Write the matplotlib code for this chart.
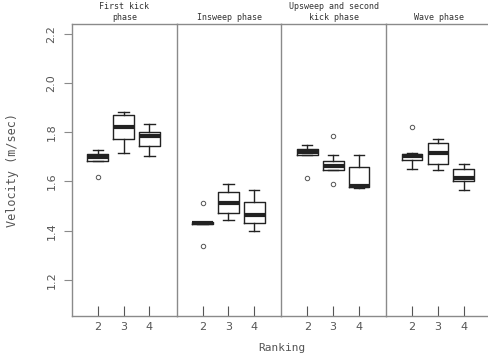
import matplotlib
matplotlib.use("Agg")
import matplotlib.pyplot as plt

# phases (panels) and ranking groups
phases = ["First kick\nphase", "Insweep phase", "Upsweep and second\nkick phase", "Wave phase"]
ranks = ["2", "3", "4"]

# box stats per phase, one entry per rank
med = [[1.698, 1.823, 1.785],
       [1.430, 1.511, 1.464],
       [1.720, 1.662, 1.582],
       [1.703, 1.714, 1.615]]
q1 = [[1.682, 1.771, 1.744],
      [1.426, 1.472, 1.430],
      [1.706, 1.646, 1.578],
      [1.687, 1.672, 1.602]]
q3 = [[1.711, 1.869, 1.801],
      [1.434, 1.556, 1.518],
      [1.731, 1.683, 1.658],
      [1.710, 1.758, 1.649]]
whislo = [[1.682, 1.717, 1.703],
          [1.426, 1.444, 1.399],
          [1.706, 1.646, 1.575],
          [1.649, 1.645, 1.567]]
whishi = [[1.728, 1.883, 1.834],
          [1.434, 1.591, 1.566],
          [1.748, 1.709, 1.709],
          [1.714, 1.774, 1.672]]
fliers = [[[1.617], [], []],
          [[1.513, 1.339], [], []],
          [[1.612], [1.784, 1.588], []],
          [[1.820], [], []]]

yticks = [1.2, 1.4, 1.6, 1.8, 2.0, 2.2]

grey = "#8a8a8a"
font = "DejaVu Sans Mono"

fig, axes = plt.subplots(1, 4, sharey=True, figsize=(4.89, 3.62), dpi=100)
fig.subplots_adjust(left=0.147, right=1.004, bottom=0.127, top=0.934, wspace=0)

for i, ax in enumerate(axes):
    stats = []
    for j in range(3):
        stats.append(dict(med=med[i][j], q1=q1[i][j], q3=q3[i][j],
                          whislo=whislo[i][j], whishi=whishi[i][j],
                          fliers=fliers[i][j]))
    ax.bxp(stats, positions=[1, 2, 3], widths=0.8, capwidths=0.4,
           boxprops=dict(color="#222222", lw=1.0),
           whiskerprops=dict(color="#222222", lw=1.0),
           capprops=dict(color="#222222", lw=1.0),
           medianprops=dict(color="#222222", lw=3.0, solid_capstyle="butt"),
           flierprops=dict(marker="o", markersize=3.2, markerfacecolor="none",
                           markeredgecolor="#555555", markeredgewidth=0.7))
    ax.set_xlim(0, 4.05)
    ax.set_ylim(1.053, 2.24)
    ax.set_xticks([1, 2, 3])
    ax.set_xticklabels(ranks, fontsize=8, color="#555555")
    ax.tick_params(axis="x", direction="in", length=7, color="#555555", pad=4)
    ax.set_title(phases[i], fontsize=6, family=font, color="#333333",
                 pad=3, linespacing=1.2)
    for side in ["left", "top", "bottom"]:
        ax.spines[side].set_color(grey)
        ax.spines[side].set_linewidth(1.0)
    ax.spines["right"].set_visible(False)
    if i > 0:
        ax.tick_params(axis="y", left=False, labelleft=False)

axes[0].set_yticks(yticks)
axes[0].set_yticklabels(["%.1f" % v for v in yticks], rotation=90,
                        va="center", fontsize=8, color="#555555")
axes[0].tick_params(axis="y", direction="out", length=6, color=grey, pad=5)
axes[0].set_ylabel("Velocity (m/sec)", family=font, fontsize=8.5,
                   color="#555555", labelpad=20)

fig.text(0.576, 0.04, "Ranking", ha="center", va="center",
         fontsize=8, family=font, color="#555555")

fig.savefig("out.png", dpi=100)
